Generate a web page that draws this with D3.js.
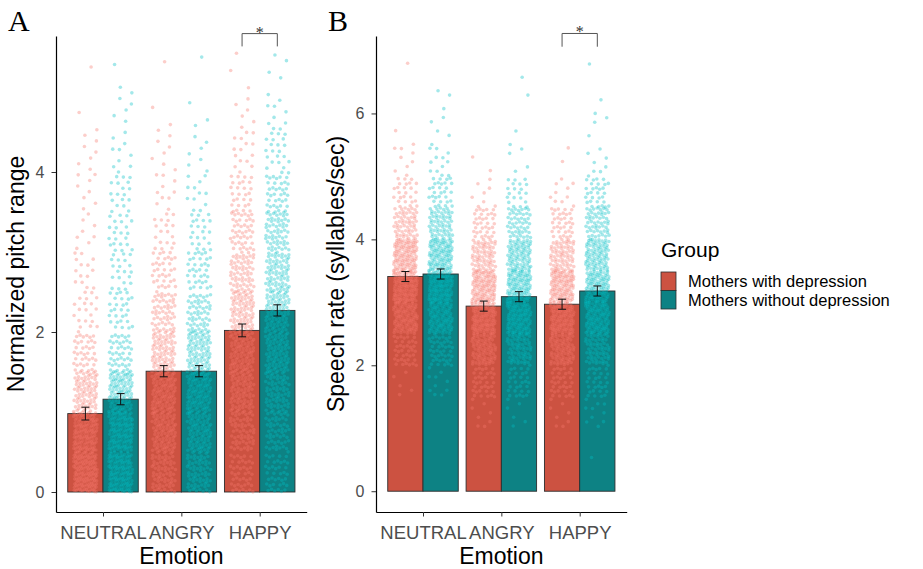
<!DOCTYPE html>
<html>
<head>
<meta charset="utf-8">
<script src="https://cdn.jsdelivr.net/npm/d3@7"></script>
<style>
  body { margin: 0; background: #fff; }
  svg { display: block; font-family: "Liberation Sans", Arial, sans-serif; }
</style>
</head>
<body>
<div id="chart"></div>
<script>
// Categories
const emotions = ["NEUTRAL", "ANGRY", "HAPPY"];
const groups = ["Mothers with depression", "Mothers without depression"];

// Panel A - normalized pitch range (bar = mean, error bar = SE)
const pitchDepMean = [0.98, 1.51, 2.02];
const pitchNoDepMean = [1.16, 1.51, 2.27];
const pitchDepSE = [0.08, 0.07, 0.08];
const pitchNoDepSE = [0.07, 0.07, 0.07];
const pitchBinEdges = [0, 0.5, 1, 1.5, 2, 2.5, 3, 3.5, 4, 4.5, 5, 5.5];
const pitchDepCounts = [
  [150, 130, 80, 40, 20, 14, 8, 8, 7, 2, 1],
  [70, 90, 100, 80, 55, 35, 18, 10, 7, 3, 1],
  [45, 60, 80, 90, 80, 65, 45, 28, 15, 6, 3]
];
const pitchNoDepCounts = [
  [130, 130, 100, 45, 28, 20, 22, 18, 10, 6, 2],
  [70, 90, 105, 85, 55, 35, 22, 12, 7, 3, 1],
  [40, 55, 70, 85, 85, 75, 60, 40, 20, 10, 4]
];
const pitchTicks = [0, 2, 4];

// Panel B - speech rate (syllables/sec)
const rateDepMean = [3.41, 2.94, 2.97];
const rateNoDepMean = [3.45, 3.09, 3.18];
const rateDepSE = [0.08, 0.08, 0.08];
const rateNoDepSE = [0.08, 0.08, 0.08];
const rateBinEdges = [0, 0.5, 1, 1.5, 2, 2.5, 3, 3.5, 4, 4.5, 5, 5.5, 6, 6.5, 7];
const rateDepCounts = [
  [0, 0, 0, 5, 40, 100, 130, 110, 60, 25, 8, 2, 0, 1],
  [0, 0, 8, 35, 80, 120, 110, 70, 35, 8, 2, 0, 0, 0],
  [0, 0, 8, 35, 80, 115, 110, 70, 35, 10, 2, 0, 0, 0]
];
const rateNoDepCounts = [
  [0, 0, 0, 10, 45, 95, 120, 105, 65, 30, 12, 5, 3, 0],
  [0, 0, 6, 30, 70, 110, 110, 85, 50, 20, 4, 2, 1, 1],
  [0, 1, 10, 30, 65, 100, 105, 85, 55, 30, 8, 3, 2, 1]
];
const rateTicks = [0, 2, 4, 6];

const W = 923, H = 569;
const barColor = ["#cc5241", "#0d8284"];
const pointColor = ["#F8766D", "#00BFC4"];

const svg = d3.select("#chart").append("svg")
  .attr("width", W)
  .attr("height", H);

function drawPanel(p) {
  const g = svg.append("g");
  const x = d3.scalePoint().domain(emotions).range([p.left, p.left + 250.7]).padding(0.6);
  const step = x.step();
  const xg = d3.scaleBand().domain(groups).range([-0.45 * step, 0.45 * step]);
  const y = d3.scaleLinear().domain(p.yDomain).range([512, 36]);

  const cells = [];
  emotions.forEach((e, i) => {
    groups.forEach((gr, j) => {
      cells.push({ e, gr, j, mean: p.means[j][i], se: p.se[j][i], counts: p.counts[j][i] });
    });
  });
  const cx = d => x(d.e) + xg(d.gr) + xg.bandwidth() / 2;

  // bars
  g.append("g").selectAll("rect")
    .data(cells)
    .join("rect")
    .attr("x", d => x(d.e) + xg(d.gr))
    .attr("width", xg.bandwidth())
    .attr("y", d => y(d.mean))
    .attr("height", d => y(0) - y(d.mean))
    .attr("fill", d => barColor[d.j])
    .attr("stroke", "#2e2e2e")
    .attr("stroke-width", 0.9);

  // jittered raw points, spread inside each bin
  const pts = [];
  cells.forEach(c => {
    let n = 0;
    c.counts.forEach((cnt, k) => {
      const lo = p.edges[k], hi = p.edges[k + 1];
      for (let m = 0; m < cnt; m++, n++) {
        const fx = (0.5 + (n + 1) * 0.7548776662) % 1;
        const fy = (0.5 + (n + 1) * 0.5698402910) % 1;
        pts.push({ j: c.j, px: cx(c) + (fx - 0.5) * 0.3 * step, v: lo + fy * (hi - lo) });
      }
    });
  });
  g.append("g").selectAll("circle")
    .data(pts)
    .join("circle")
    .attr("cx", d => d.px)
    .attr("cy", d => y(d.v))
    .attr("r", 1.8)
    .attr("fill", d => pointColor[d.j])
    .attr("fill-opacity", 0.36);

  // error bars
  const eb = g.append("g").attr("stroke", "#111").attr("stroke-width", 1).attr("fill", "none");
  eb.selectAll("path")
    .data(cells)
    .join("path")
    .attr("d", d => {
      const c = cx(d), t = y(d.mean + d.se), b = y(d.mean - d.se), w = 4;
      return `M${c - w},${t}H${c + w}M${c},${t}V${b}M${c - w},${b}H${c + w}`;
    });

  // significance bracket on HAPPY
  const x1 = x("HAPPY") + xg(groups[0]) + xg.bandwidth() / 2;
  const x2 = x("HAPPY") + xg(groups[1]) + xg.bandwidth() / 2;
  g.append("path")
    .attr("d", `M${x1},${y(p.sig[0] - p.sig[1])}V${y(p.sig[0])}H${x2}V${y(p.sig[0] - p.sig[1])}`)
    .attr("fill", "none")
    .attr("stroke", "#555")
    .attr("stroke-width", 1);
  g.append("text")
    .attr("x", (x1 + x2) / 2)
    .attr("y", y(p.sig[0]) + 4)
    .attr("text-anchor", "middle")
    .style("font-family", "'Liberation Serif', 'Times New Roman', serif")
    .style("font-size", "16px")
    .attr("fill", "#333")
    .text("*");

  // axes
  const ya = g.append("g")
    .attr("transform", `translate(${p.left},0)`)
    .call(d3.axisLeft(y).tickValues(p.ticks).tickFormat(d3.format("d"))
      .tickSize(4.5).tickSizeOuter(0).tickPadding(7));
  const xa = g.append("g")
    .attr("transform", "translate(0,512)")
    .call(d3.axisBottom(x).tickSize(4.5).tickSizeOuter(0).tickPadding(9.5));
  [ya, xa].forEach(a => {
    a.select(".domain").attr("stroke", "#000").attr("stroke-width", 1.2);
    a.selectAll(".tick line").attr("stroke", "#333");
    a.selectAll(".tick text").attr("fill", "#4d4d4d").style("font-family", null);
  });
  ya.selectAll(".tick text").style("font-size", "16px");
  xa.selectAll(".tick text").style("font-size", "18.5px");

  g.append("text")
    .attr("x", p.left + 125.35)
    .attr("y", 564)
    .attr("text-anchor", "middle")
    .style("font-size", "23px")
    .text("Emotion");
  g.append("text")
    .attr("transform", `translate(${p.left - 32},274) rotate(-90)`)
    .attr("text-anchor", "middle")
    .style("font-size", "23px")
    .text(p.title);
  g.append("text")
    .attr("x", p.left - 48)
    .attr("y", 31)
    .style("font-family", "'Liberation Serif', 'Times New Roman', serif")
    .style("font-size", "30px")
    .text(p.letter);
}

drawPanel({
  left: 56, letter: "A", title: "Normalized pitch range",
  yDomain: [-0.25, 5.70], ticks: pitchTicks, edges: pitchBinEdges,
  means: [pitchDepMean, pitchNoDepMean], se: [pitchDepSE, pitchNoDepSE],
  counts: [pitchDepCounts, pitchNoDepCounts], sig: [5.73, 0.16]
});
drawPanel({
  left: 376, letter: "B", title: "Speech rate (syllables/sec)",
  yDomain: [-0.33, 7.23], ticks: rateTicks, edges: rateBinEdges,
  means: [rateDepMean, rateNoDepMean], se: [rateDepSE, rateNoDepSE],
  counts: [rateDepCounts, rateNoDepCounts], sig: [7.27, 0.21]
});

// legend
const legend = svg.append("g").attr("transform", "translate(661,0)");
legend.append("text")
  .attr("x", 0).attr("y", 257)
  .style("font-size", "21px")
  .text("Group");
legend.selectAll("rect")
  .data(groups)
  .join("rect")
  .attr("x", 0)
  .attr("y", (d, i) => 272 + i * 18.5)
  .attr("width", 15)
  .attr("height", 18.5)
  .attr("fill", (d, i) => barColor[i])
  .attr("stroke", "#2e2e2e")
  .attr("stroke-width", 0.8);
legend.selectAll("text.lab")
  .data(groups)
  .join("text")
  .attr("class", "lab")
  .attr("x", 27)
  .attr("y", (d, i) => 287 + i * 18.5)
  .style("font-size", "16.5px")
  .text(d => d);
</script>
</body>
</html>
